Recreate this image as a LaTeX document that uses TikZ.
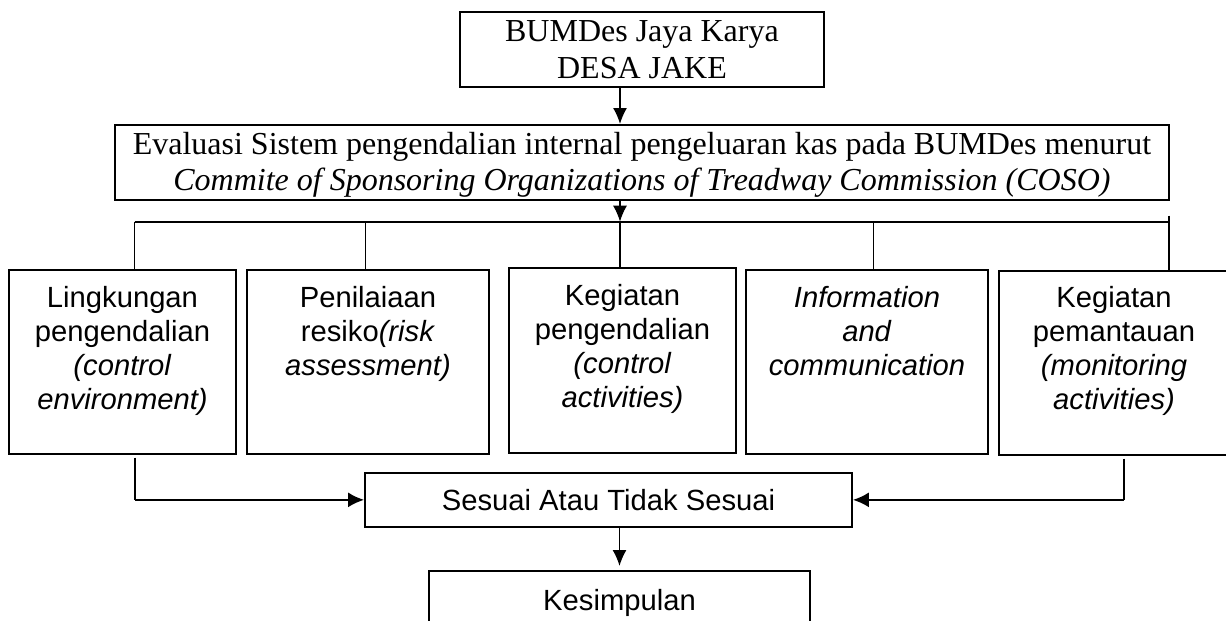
\documentclass[tikz,border=0pt]{standalone}
\usepackage{fontspec}
\setmainfont{Liberation Serif}
\newfontfamily\arialfont{Liberation Sans}
\usetikzlibrary{arrows.meta}
\tikzset{
	serifbox/.style={draw, line width=1.7pt, anchor=north, inner sep=0pt, align=flush center, font=\fontsize{32}{36.4}\selectfont},
	sansbox/.style={draw, line width=1.7pt, anchor=north, inner sep=0pt, align=flush center, font=\arialfont\fontsize{29.2}{34}\selectfont},
	conn/.style={line width=1.4pt},
	bus/.style={line width=2pt},
	arr/.style={line width=1.5pt, -{Latex[length=16pt,width=14pt]}},
	harr/.style={line width=2.2pt, -{Latex[length=16pt,width=15pt]}}
}

\begin{document}
\begin{tikzpicture}[x=1pt, y=-1pt]
		\useasboundingbox (0,0) rectangle (1226,621);

		\node (top)[serifbox, text width=364pt, text height=30pt, text depth=45pt]at (642,11)  {BUMDes Jaya Karya\\DESA JAKE};
		\node (eval)[serifbox, text width=1054pt, text height=29.5pt, text depth=45.5pt]at (642,124)  {Evaluasi Sistem pengendalian internal pengeluaran kas pada BUMDes menurut\\\textit{Commite of Sponsoring Organizations of Treadway Commission (COSO)}};

		\node (b1)[sansbox, text width=227pt, text height=37.7pt, text depth=146.3pt]at (122.5,269)  {Lingkungan\\pengendalian\\\textit{(control}\\\textit{environment)}};
		\node (b2)[sansbox, text width=242pt, text height=37.7pt, text depth=146.3pt]at (368,269)  {Penilaiaan\\resiko\textit{(risk}\\\textit{assessment)}};
		\node (b3)[sansbox, text width=227pt, text height=37.7pt, text depth=147.3pt]at (622.5,267)  {Kegiatan\\pengendalian\\\textit{(control}\\\textit{activities)}};
		\node (b4)[sansbox, text width=242pt, text height=37.7pt, text depth=146.3pt]at (867,269)  {\textit{Information}\\\textit{and}\\\textit{communication}};
		\node (b5)[sansbox, text width=230pt, text height=37pt, text depth=147pt]at (1114,270)  {Kegiatan\\pemantauan\\\textit{(monitoring}\\\textit{activities)}};

		\node (ses)[sansbox, text width=487pt, text height=38pt, text depth=16pt]at (608.5,472)  {Sesuai Atau Tidak Sesuai};
		\node (kes)[sansbox, text width=381pt, text height=40pt, text depth=60pt]at (619.5,570)  {Kesimpulan};

		\coordinate (ax) at (620,0);
		\coordinate (busL) at (134.5,221.7);
		\coordinate (busM) at (620,221.7);
		\coordinate (busR) at (1169,221.7);
		\coordinate (tickR) at (1169,215.7);
		\coordinate (dL) at (135,0);
		\coordinate (dR) at (1124,0);

		\draw [arr](top.south -| ax)--(eval.north -| ax);
		\draw [arr](eval.south -| ax)--(busM);
		\draw [bus](busL)--(busR);
		\draw [conn](tickR)--(busR |- b5.north);
		\draw [conn](busL)--(busL |- b1.north);
		\draw [conn](365.5,221.7)--(365.5,269);
		\draw [conn](busM)--(busM |- b3.north);
		\draw [conn](873.5,221.7)--(873.5,269);

		\draw [conn, shorten <=3pt](b1.south -| dL)--(dL |- ses.west);
		\draw [harr](dL |- ses.west)--(ses.west);
		\draw [conn, shorten <=3pt](b5.south -| dR)--(dR |- ses.east);
		\draw [harr](dR |- ses.east)--(ses.east);
		\draw [arr, shorten >=4pt](kes.north |- ses.south)--(kes.north);
	\end{tikzpicture}
\end{document}
